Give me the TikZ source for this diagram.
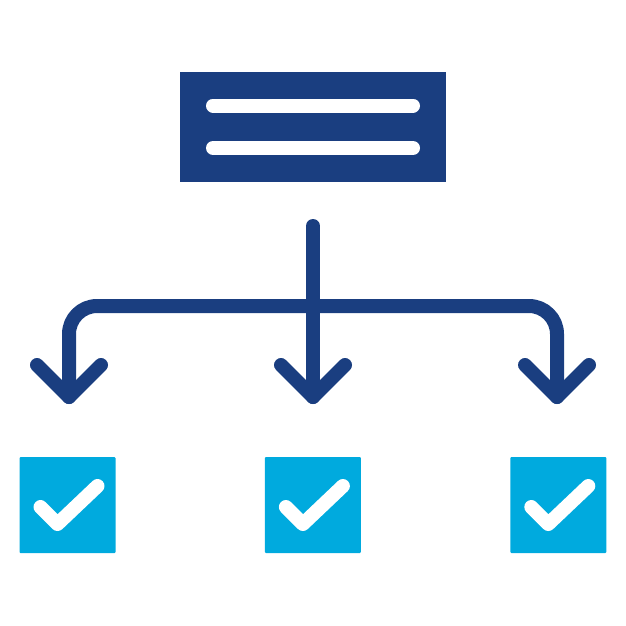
\documentclass[tikz,border=0pt]{standalone}
\usetikzlibrary{positioning}
\definecolor{azuloscuro}{RGB}{26,62,128}
\definecolor{celeste}{RGB}{0,170,222}
\tikzset{
  linea/.style={azuloscuro, line width=14pt, line cap=round, line join=round},
  raya/.style={white, line width=14pt, line cap=round},
  casilla/.style={fill=celeste, minimum size=96pt, inner sep=0pt, rounded corners=1pt},
  palomita/.style={white, line width=14pt, line cap=round, line join=round}
}
\begin{document}
\begin{tikzpicture}[x=1pt,y=-1pt]
\useasboundingbox (0,0) rectangle (626,626);

% La cabecera con sus dos rayas
\node[fill=azuloscuro, minimum width=266pt, minimum height=110pt, inner sep=0pt] (cabecera) at (313,127) {};
\draw[raya] (213,105.5) -- (413,105.5);
\draw[raya] (213,148) -- (413,148);

% Puntos de las flechas
\coordinate (inicio) at (313,226);
\coordinate (punta1) at (69,397);
\coordinate (punta2) at (313,397);
\coordinate (punta3) at (557,397);

% El tronco y las ramas
\draw[linea] (inicio) -- (punta2);
\draw[linea, rounded corners=28pt] (punta1) |- (punta3 |- 0,306) -- (punta3);

% Las puntas (hechas a mano)
\foreach \n in {1,2,3}
  \draw[linea] ([shift={(-32,-32)}]punta\n) -- (punta\n) -- ([shift={(32,-32)}]punta\n);

% Las casillas marcadas
\node[casilla] (casilla1) at (67.5,505) {};
\node[casilla, right=149pt of casilla1] (casilla2) {};
\node[casilla, right=149pt of casilla2] (casilla3) {};
\foreach \n in {1,2,3}
  \draw[palomita] ([shift={(-27,2)}]casilla\n.center) -- ([shift={(-10,19)}]casilla\n.center)
    -- ([shift={(30,-19)}]casilla\n.center);
\end{tikzpicture}
\end{document}
